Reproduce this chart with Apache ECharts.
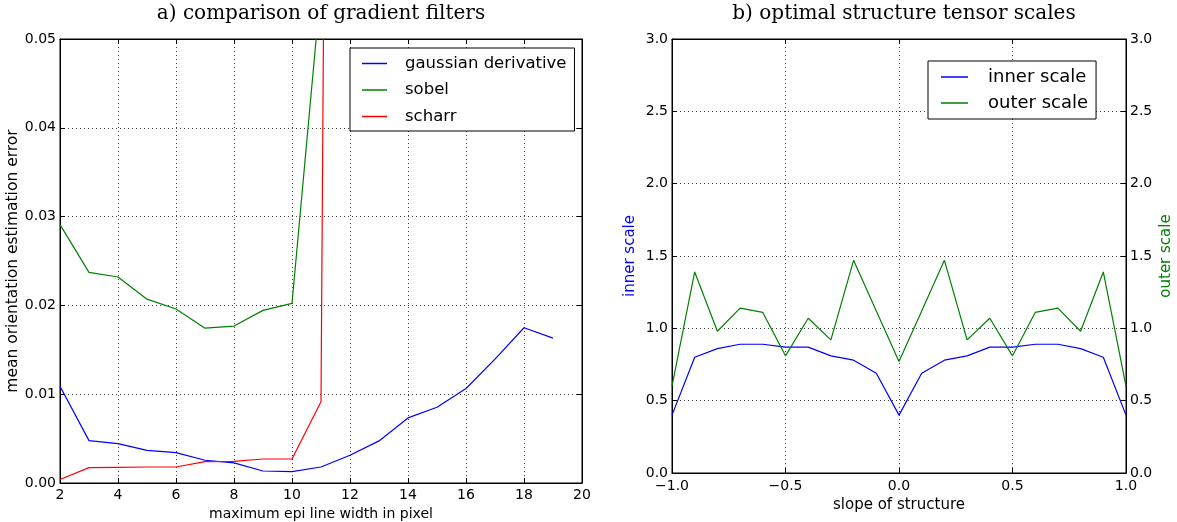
<!DOCTYPE html>
<html>
<head>
<meta charset="utf-8">
<script src="https://cdn.jsdelivr.net/npm/echarts@6/dist/echarts.min.js"></script>
<style>html,body{margin:0;padding:0;background:#fff}#c{width:1177px;height:522px}</style>
</head>
<body>
<div id="c"></div>
<script>
// ---- data: panel a ----
const widths = [2,3,4,5,6,7,8,9,10,11,12,13,14,15,16,17,18,19];
const gaussianDerivative = [0.0109,0.00477,0.00444,0.00368,0.00342,0.00256,0.00226,0.00135,0.00128,0.0018,0.00312,0.00474,0.00733,0.00853,0.01064,0.01395,0.01748,0.01632];
const sobel = [0.0291,0.02372,0.0232,0.0207,0.01959,0.01744,0.01767,0.01944,0.02023,0.056];
const scharr = [0.0004,0.00173,0.00177,0.0018,0.0018,0.0024,0.00244,0.0027,0.0027,0.00914,0.5];
// ---- data: panel b ----
const slopes = [-1.0,-0.9,-0.8,-0.7,-0.6,-0.5,-0.4,-0.3,-0.2,-0.1,0.0,0.1,0.2,0.3,0.4,0.5,0.6,0.7,0.8,0.9,1.0];
const innerScale = [0.40,0.80,0.86,0.89,0.89,0.87,0.87,0.81,0.78,0.69,0.40,0.69,0.78,0.81,0.87,0.87,0.89,0.89,0.86,0.80,0.40];
const outerScale = [0.60,1.39,0.98,1.14,1.11,0.81,1.07,0.92,1.47,1.12,0.77,1.12,1.47,0.92,1.07,0.81,1.11,1.14,0.98,1.39,0.60];

const pairs = (xs, ys) => ys.map((y, i) => [xs[i], y]);
const FONT = 'DejaVu Sans';
const minus = s => s.replace('-', '\u2212');
const gridLine = {show: true, lineStyle: {color: '#000', width: 1, type: [1, 3], opacity: 0.75}};
const tick = {show: true, inside: true, length: 5, lineStyle: {color: '#000', width: 1}};
const axLine = {show: true, onZero: false, lineStyle: {color: '#000', width: 1}};
const lbl = (fmt, margin) => ({show: true, color: '#000', fontFamily: FONT, fontSize: 14, margin: margin, formatter: fmt, showMinLabel: true, showMaxLabel: true});
const noLbl = {show: false};
const nameStyle = (size, c) => ({color: c || '#000', fontFamily: FONT, fontSize: size});
const line = (name, data, color, x, y) => ({
  type: 'line', name: name, data: data, xAxisIndex: x, yAxisIndex: y,
  symbol: 'none', showSymbol: false, clip: true, animation: false,
  lineStyle: {color: color, width: 1.2}, itemStyle: {color: color}
});

const chart = echarts.init(document.getElementById('c'), null, {renderer: 'canvas'});
chart.setOption({
  backgroundColor: '#fff',
  animation: false,
  title: [
    {text: 'a) comparison of gradient filters', left: 316, top: -1, textAlign: 'center',
     textStyle: {fontFamily: 'DejaVu Serif', fontSize: 20, fontWeight: 'normal', color: '#000'}},
    {text: 'b) optimal structure tensor scales', left: 899, top: -1, textAlign: 'center',
     textStyle: {fontFamily: 'DejaVu Serif', fontSize: 20, fontWeight: 'normal', color: '#000'}}
  ],
  grid: [
    {left: 60, top: 39, width: 522, height: 444, show: true, borderColor: '#000', borderWidth: 1, backgroundColor: 'transparent', containLabel: false, outerBoundsMode: 'none'},
    {left: 672, top: 39, width: 454, height: 434, show: true, borderColor: '#000', borderWidth: 1, backgroundColor: 'transparent', containLabel: false, outerBoundsMode: 'none'}
  ],
  legend: [
    {data: ['gaussian derivative', 'sobel', 'scharr'], orient: 'vertical', left: 350, top: 48,
     icon: 'rect', backgroundColor: '#fff', borderColor: '#000', borderWidth: 1, borderRadius: 0,
     padding: [7, 8, 6, 12], itemGap: 9.5, itemWidth: 25, itemHeight: 1.5,
     textStyle: {fontFamily: FONT, fontSize: 16.5, color: '#000', padding: [0, 0, 0, 13], lineHeight: 17}},
    {data: ['inner scale', 'outer scale'], orient: 'vertical', left: 928, top: 61,
     icon: 'rect', backgroundColor: '#fff', borderColor: '#000', borderWidth: 1, borderRadius: 0,
     padding: [7, 8, 7, 13], itemGap: 8, itemWidth: 27, itemHeight: 1.5,
     textStyle: {fontFamily: FONT, fontSize: 18, color: '#000', padding: [0, 0, 0, 15], lineHeight: 18}}
  ],
  xAxis: [
    {type: 'value', gridIndex: 0, min: 2, max: 20, interval: 2, position: 'bottom',
     name: 'maximum epi line width in pixel', nameLocation: 'middle', nameGap: 21, nameTextStyle: nameStyle(14),
     axisLine: axLine, axisTick: tick, splitLine: gridLine, axisLabel: lbl(v => String(v), 5)},
    {type: 'value', gridIndex: 0, min: 2, max: 20, interval: 2, position: 'top',
     axisLine: axLine, axisTick: tick, splitLine: {show: false}, axisLabel: noLbl},
    {type: 'value', gridIndex: 1, min: -1, max: 1, interval: 0.5, position: 'bottom',
     name: 'slope of structure', nameLocation: 'middle', nameGap: 22, nameTextStyle: nameStyle(15),
     axisLine: axLine, axisTick: tick, splitLine: gridLine, axisLabel: lbl(v => minus(v.toFixed(1)), 6)},
    {type: 'value', gridIndex: 1, min: -1, max: 1, interval: 0.5, position: 'top',
     axisLine: axLine, axisTick: tick, splitLine: {show: false}, axisLabel: noLbl}
  ],
  yAxis: [
    {type: 'value', gridIndex: 0, min: 0, max: 0.05, interval: 0.01, position: 'left',
     name: 'mean orientation estimation error', nameLocation: 'middle', nameRotate: 90, nameGap: 29, nameTextStyle: nameStyle(15.5),
     axisLine: axLine, axisTick: tick, splitLine: gridLine, axisLabel: lbl(v => v.toFixed(2), 4)},
    {type: 'value', gridIndex: 0, min: 0, max: 0.05, interval: 0.01, position: 'right',
     axisLine: axLine, axisTick: tick, splitLine: {show: false}, axisLabel: noLbl},
    {type: 'value', gridIndex: 1, min: 0, max: 3, interval: 0.5, position: 'left',
     name: 'inner scale', nameLocation: 'middle', nameRotate: 90, nameGap: 34, nameTextStyle: nameStyle(15, '#0000ff'),
     axisLine: axLine, axisTick: tick, splitLine: gridLine, axisLabel: lbl(v => v.toFixed(1), 4)},
    {type: 'value', gridIndex: 1, min: 0, max: 3, interval: 0.5, position: 'right',
     name: 'outer scale', nameLocation: 'middle', nameRotate: 90, nameGap: 33, nameTextStyle: nameStyle(15, '#008000'),
     axisLine: axLine, axisTick: tick, splitLine: {show: false}, axisLabel: lbl(v => v.toFixed(1), 4)}
  ],
  series: [
    line('gaussian derivative', pairs(widths, gaussianDerivative), '#0000ff', 0, 0),
    line('sobel', pairs(widths, sobel), '#008000', 0, 0),
    line('scharr', pairs(widths, scharr), '#ff0000', 0, 0),
    line('inner scale', pairs(slopes, innerScale), '#0000ff', 2, 2),
    line('outer scale', pairs(slopes, outerScale), '#008000', 2, 3)
  ]
});
</script>
</body>
</html>
